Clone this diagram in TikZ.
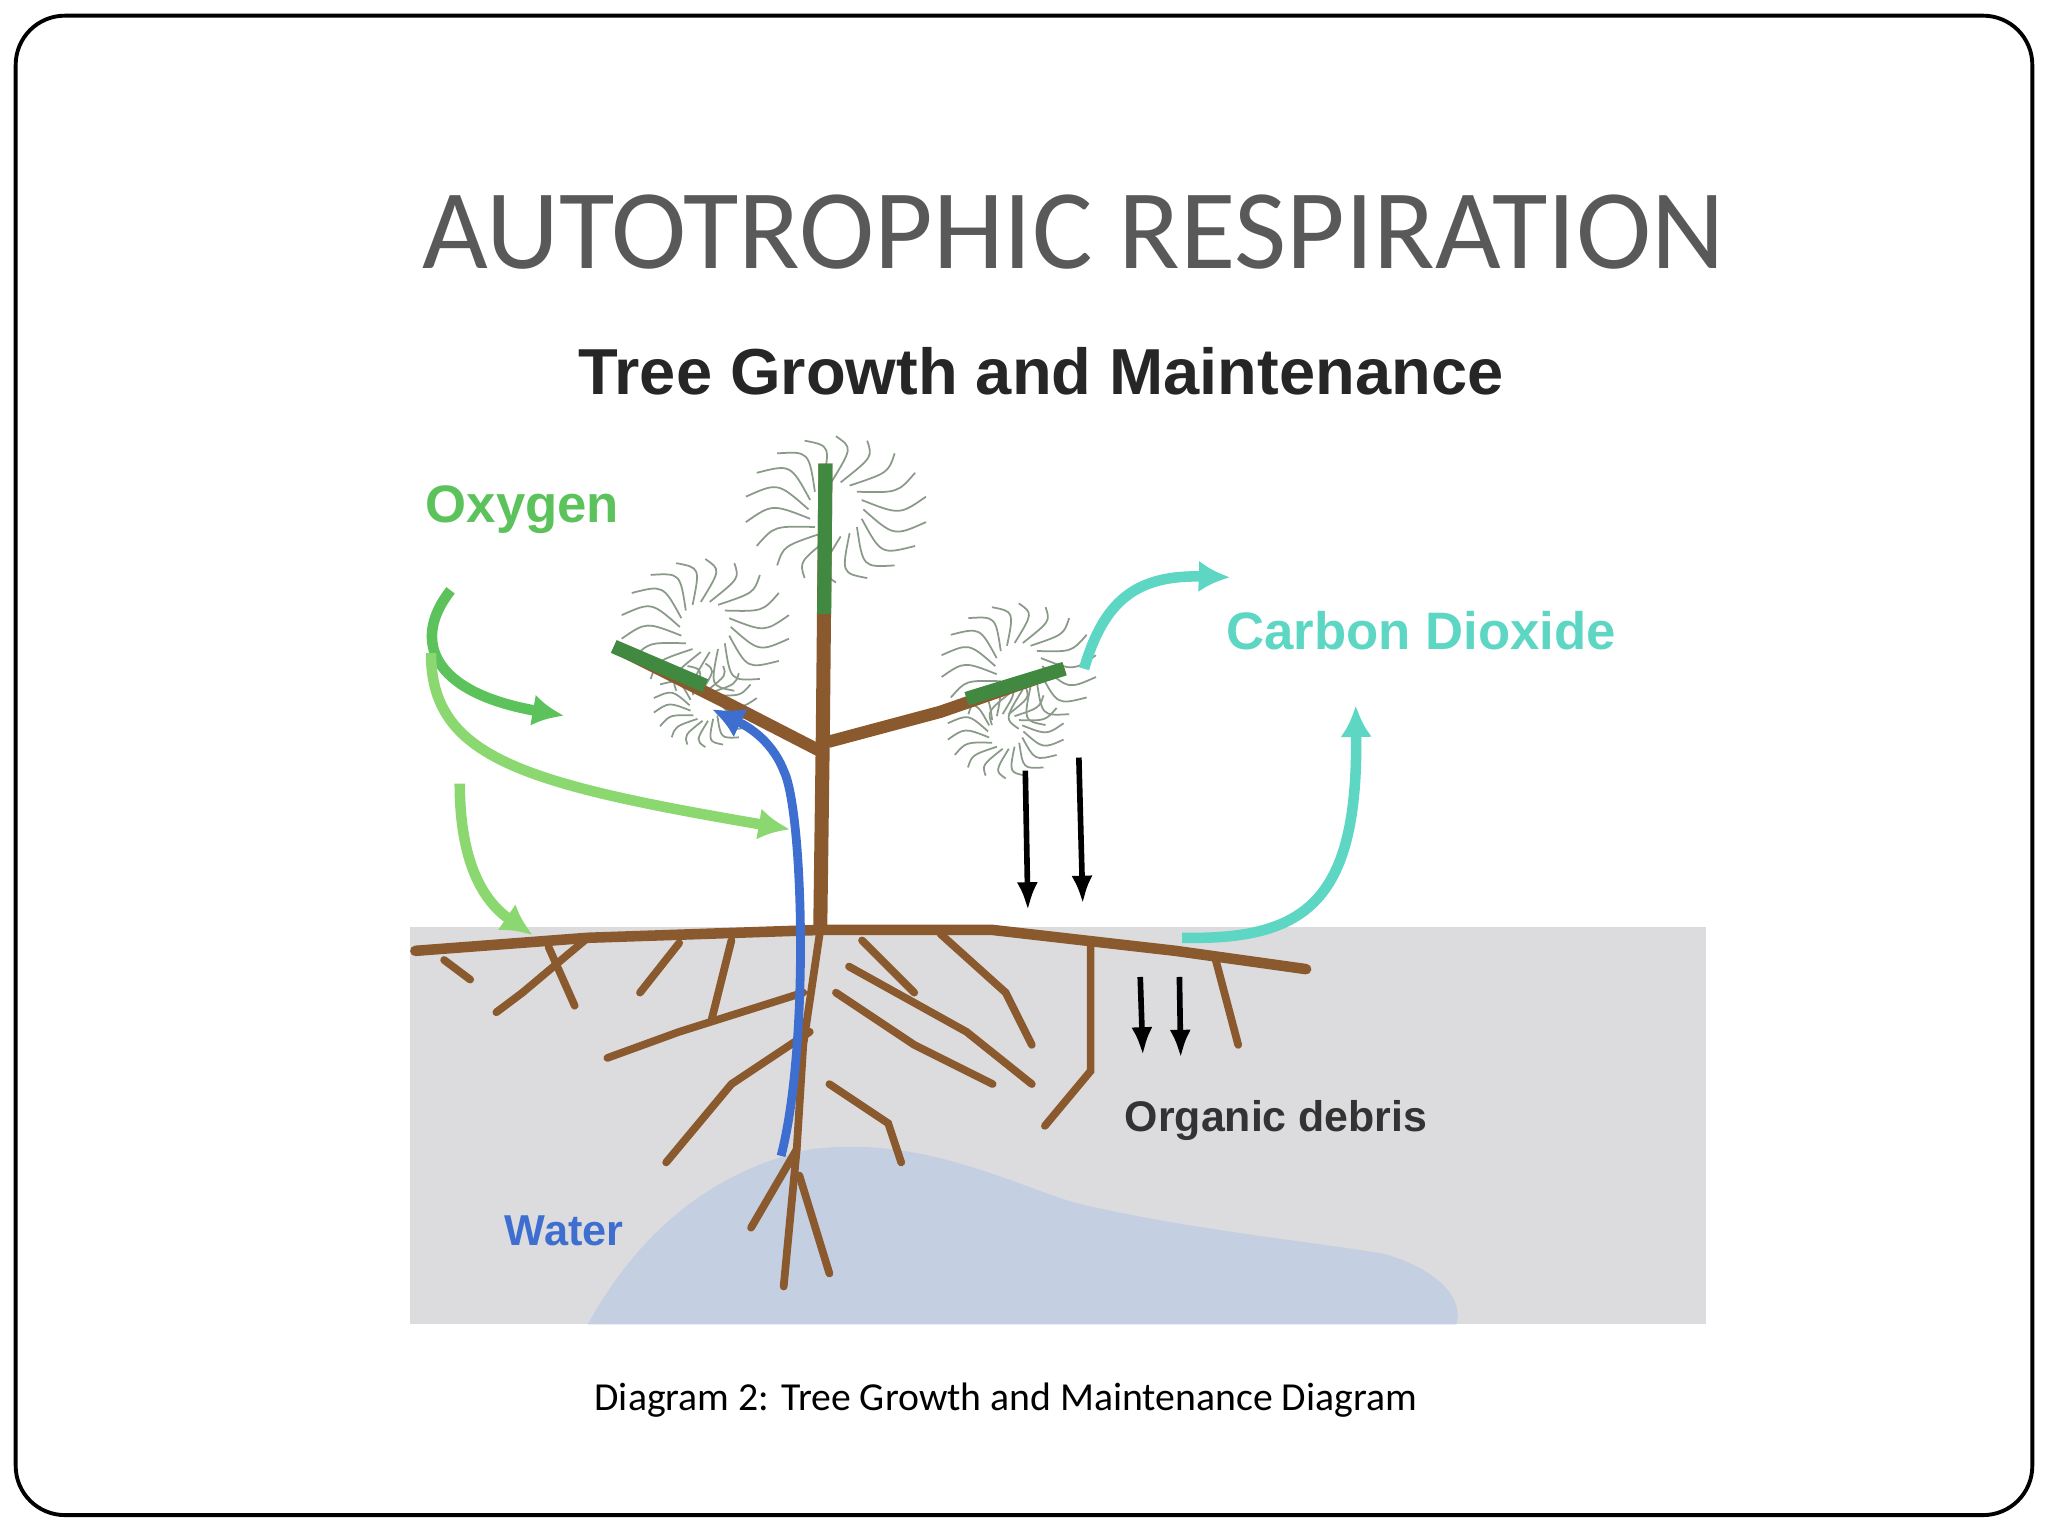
\documentclass[tikz,border=0pt]{standalone}
\usepackage{fontspec}
\setmainfont{Carlito}
\newfontfamily\lsans{Liberation Sans}
\usetikzlibrary{arrows.meta}
\definecolor{brn}{HTML}{8A5A2E}
\definecolor{oxg}{HTML}{5CC25C}
\definecolor{oxl}{HTML}{8CD870}
\definecolor{cyn}{HTML}{5ED6C4}
\definecolor{wat}{HTML}{3E6FD0}
\definecolor{gnd}{HTML}{DCDCDE}
\definecolor{blob}{HTML}{C5CFE2}
\definecolor{fol}{HTML}{8A9A88}
\tikzset{
 root/.style={brn,line width=2.2pt,line cap=round},
 fl/.style={fol,line width=0.5pt},
 ar/.style={line width=3pt,-{Latex[length=9pt,width=9pt]}},
 blk/.style={black,line width=1.6pt,-{Latex[length=8pt,width=6pt]}},
 lab/.style={font=\lsans\bfseries\fontsize{15}{18}\selectfont}
}
\begin{document}
\begin{tikzpicture}[x=0.01306cm,y=-0.01306cm]
\useasboundingbox (0,0) rectangle (1568,1176);
\draw[line width=1.1pt,rounded corners=14pt] (12,12) rectangle (1556,1160);
\node[text=black!65,font=\fontsize{32.3}{38}\selectfont] (title) at (822,178) {AUTOTROPHIC RESPIRATION};
\node[text=black!85,font=\lsans\bfseries\fontsize{18.5}{21}\selectfont] (sub) at (797,284) {Tree Growth and Maintenance};
% ground
\fill[gnd] (314,710) rectangle (1306,1014);
\fill[blob] (450,1014) .. controls (480,960) and (530,900) .. (620,880) .. controls (700,870) and (760,900) .. (820,920) .. controls (900,940) and (1000,950) .. (1060,960) .. controls (1110,975) and (1120,1000) .. (1115,1014) -- cycle;
% foliage
\foreach \cx/\cy/\r in {640/390/70, 540/480/65, 780/510/60, 770/560/45, 540/540/40}{
 \foreach \a in {0,20,...,340}{
  \draw[fl] ({\cx+0.3*\r*cos(\a)},{\cy+0.3*\r*sin(\a)}) .. controls ({\cx+0.7*\r*cos(\a+25)},{\cy+0.7*\r*sin(\a+25)}) .. ({\cx+\r*cos(\a+10)},{\cy+0.8*\r*sin(\a+10)});
 }}
% trunk and branches
\draw[brn,line width=4pt] (632,355) -- (630,560) -- (628,712);
\draw[brn,line width=3.5pt] (628,575) -- (560,540) -- (470,495);
\draw[brn,line width=3.5pt] (634,568) -- (720,545) -- (815,512);
\draw[oxg!70!black,line width=4pt] (632,355) -- (631,470);
\draw[oxg!70!black,line width=4pt] (470,495) -- (540,525);
\draw[oxg!70!black,line width=4pt] (815,512) -- (740,535);
% roots
\draw[root,line width=3pt] (318,728) -- (450,718) -- (628,712) -- (760,712) -- (900,728) -- (1000,742);
\draw[root] (628,712) -- (615,800) -- (610,880) -- (600,985);
\draw[root] (610,880) -- (575,940); \draw[root] (612,900) -- (635,975);
\draw[root] (620,790) -- (560,830) -- (510,890);
\draw[root] (615,760) -- (520,790) -- (465,810);
\draw[root] (640,760) -- (700,800) -- (760,830);
\draw[root] (650,740) -- (740,790) -- (790,830);
\draw[root] (635,830) -- (680,860) -- (690,890);
\draw[root] (450,718) -- (400,760) -- (380,775);
\draw[root] (420,725) -- (440,770);
\draw[root] (340,735) -- (360,750);
\draw[root] (520,722) -- (490,760);
\draw[root] (560,720) -- (545,780);
\draw[root] (720,715) -- (770,760) -- (790,800);
\draw[root] (835,722) -- (835,820) -- (800,862);
\draw[root] (930,732) -- (948,800);
\draw[root] (660,720) -- (700,760);
% arrows oxygen
\draw[ar,oxg] (345,452) .. controls (315,490) and (330,530) .. (432,548);
\draw[ar,oxl] (330,500) .. controls (330,580) and (400,600) .. (605,635);
\draw[ar,oxl] (352,600) .. controls (352,660) and (370,690) .. (408,716);
% water
\draw[ar,wat,line width=2.5pt] (598,885) .. controls (620,800) and (615,620) .. (600,590) .. controls (590,565) and (570,555) .. (545,543);
% CO2
\draw[ar,cyn] (830,512) .. controls (845,460) and (870,440) .. (942,442);
\draw[ar,cyn] (905,718) .. controls (1000,720) and (1040,690) .. (1038,540);
% black arrows
\draw[blk] (785,590) -- (787,697);
\draw[blk] (826,580) -- (829,692);
\draw[blk] (873,748) -- (875,808);
\draw[blk] (903,748) -- (904,810);
% labels
\node[lab,text=oxg] (oxy) at (400,390) {Oxygen};
\node[lab,text=cyn] (co2) at (1088,483) {Carbon Dioxide};
\node[lab,text=black!80,font=\lsans\bfseries\fontsize{12.2}{15}\selectfont] (deb) at (977,858) {Organic debris};
\node[lab,text=wat,font=\lsans\bfseries\fontsize{12.3}{15}\selectfont] (wt) at (432,942) {Water};
\node[font=\fontsize{11.3}{14}\selectfont] (cap) at (770,1072) {Diagram 2: Tree Growth and Maintenance Diagram};
\end{tikzpicture}
\end{document}
